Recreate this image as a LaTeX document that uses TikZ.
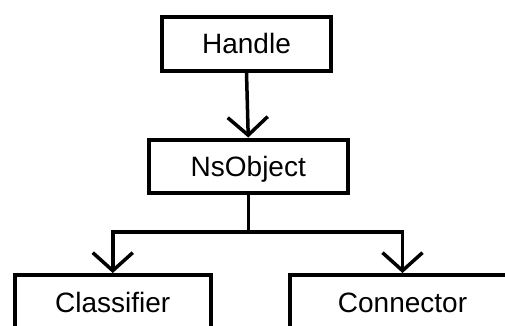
\documentclass[tikz,border=0pt]{standalone}
\usepackage{fontspec}
\setmainfont{Liberation Sans}
\usetikzlibrary{arrows.meta}
\begin{document}
\begin{tikzpicture}[x=1pt,y=1pt,
  box/.style={draw=black, line width=4pt, fill=white, inner sep=0pt, font=\fontsize{28}{32}\selectfont, text height=20pt, text depth=0pt, line join=miter},
  conn/.style={draw=black, line width=3.5pt, line join=miter},
  arr/.style={conn, -{Straight Barb[length=18pt,width=40pt,line join=miter]}}]
\useasboundingbox (0,0) rectangle (505,-325);
\begin{scope}
\clip (0,0) rectangle (505,-325);
\node[box, minimum width=169pt, minimum height=53.5pt] (h) at (246.5,-43.75) {Handle};
\node[box, minimum width=198.5pt, minimum height=53pt] (ns) at (248.25,-166) {NsObject};
\node[box, minimum width=195.5pt, minimum height=54pt] (cl) at (112.75,-302) {Classifier};
\node[box, minimum width=226pt, minimum height=54pt] (co) at (402.5,-302) {Connector};
\coordinate (j) at (248.25,-232);
\draw[arr] (h.south) -- (ns.north);
\draw[conn] (ns.south) -- (j);
\draw[arr] (j) -| (cl.north);
\draw[arr] (j) -| (co.north);
\end{scope}
\end{tikzpicture}
\end{document}
